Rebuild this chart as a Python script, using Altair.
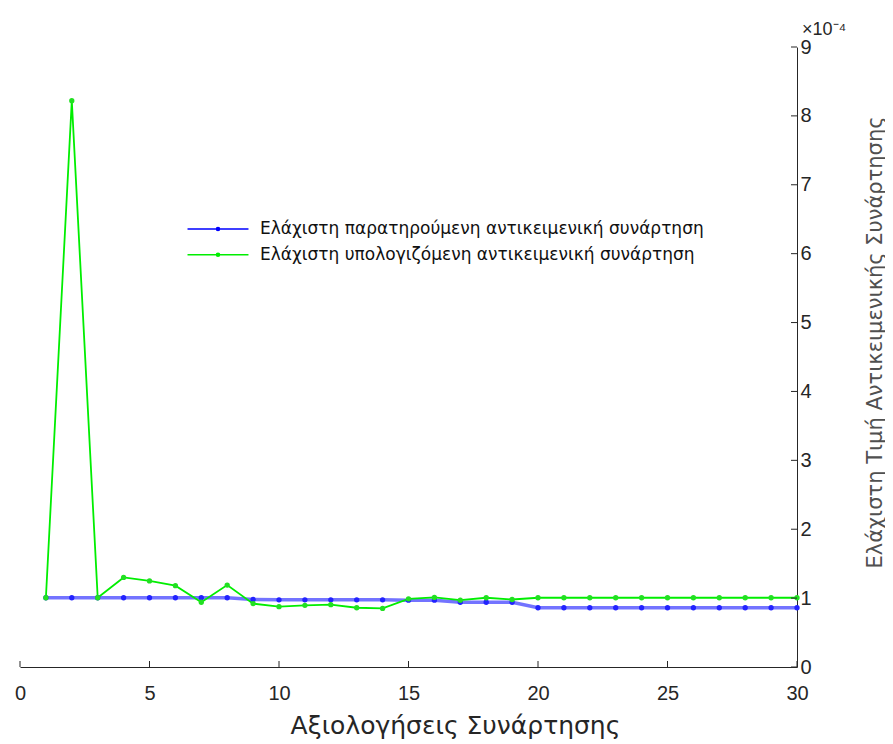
import altair as alt
import pandas as pd

FONT = "Liberation Sans"
GFONT = "DejaVu Sans"

iterations = [1, 2, 3, 4, 5, 6, 7, 8, 9, 10, 11, 12, 13, 14, 15,
              16, 17, 18, 19, 20, 21, 22, 23, 24, 25, 26, 27, 28, 29, 30]
# values in units of 1e-4
observed = [1.005, 1.005, 1.005, 1.005, 1.005, 1.005, 1.005, 1.005, 0.98, 0.975,
            0.975, 0.975, 0.975, 0.975, 0.97, 0.97, 0.94, 0.94, 0.94, 0.86,
            0.86, 0.86, 0.86, 0.86, 0.86, 0.86, 0.86, 0.86, 0.86, 0.86]
computed = [1.005, 8.22, 1.005, 1.30, 1.25, 1.18, 0.94, 1.19, 0.92, 0.875,
            0.895, 0.905, 0.86, 0.85, 0.99, 1.01, 0.97, 1.005, 0.98, 1.005,
            1.005, 1.005, 1.005, 1.005, 1.005, 1.005, 1.005, 1.005, 1.005, 1.005]
series_names = ["Ελάχιστη παρατηρούμενη αντικειμενική συνάρτηση",
                "Ελάχιστη υπολογιζόμενη  αντικειμενική συνάρτηση"]
line_colors = ["#0000ff", "#00ee00"]
point_colors = ["#2222ff", "#22e022"]
line_opacity = [0.55, 1.0]
line_width = [3.5, 1.8]
x_ticks = [0, 5, 10, 15, 20, 25, 30]
y_ticks = [0, 1, 2, 3, 4, 5, 6, 7, 8, 9]

rows = []
for name, vals, pc, op, lw in zip(series_names, [observed, computed],
                                  point_colors, line_opacity, line_width):
    for x, v in zip(iterations, vals):
        rows.append({"x": x, "y": v, "series": name, "pc": pc, "op": op, "lw": lw})
df = pd.DataFrame(rows)

W, H = 777, 620
AX = "#262626"
xs = alt.Scale(domain=[0, 30], nice=False, zero=False)
ys = alt.Scale(domain=[0, 9], nice=False, zero=False)

x_axis = alt.Axis(
    values=x_ticks, ticks=False, grid=False, labelFlush=False,
    domainColor=AX, domainWidth=1, labelColor=AX, labelFontSize=20, labelFont=FONT,
    labelPadding=16, titleFont=GFONT,
    titleFontSize=25, titleFontWeight="normal", titleColor=AX,
    titleX=435, titleY=66, titleAlign="center", titleBaseline="alphabetic")
y_axis = alt.Axis(
    orient="right", values=y_ticks, ticks=False, grid=False,
    labelFlush=False, domainColor=AX, domainWidth=1, labelColor=AX,
    labelFontSize=20, labelFont=FONT, labelPadding=3, titleFont=GFONT,
    titleFontSize=21, titleFontWeight="normal", titleColor="#505050",
    titleAngle=270, titleX=78, titleY=295, titleAlign="center",
    titleBaseline="middle")
x_enc = alt.X("x:Q", scale=xs, axis=x_axis, title="Αξιολογήσεις Συνάρτησης")
y_enc = alt.Y("y:Q", scale=ys, axis=y_axis,
              title="Ελάχιστη Τιμή Αντικειμενικής Συνάρτησης")

legend = alt.Legend(
    title=None, orient="none", legendX=187, legendY=171, padding=0,
    symbolType="M -3 0 L 3 0 M 0.15 0 A 0.15 0.15 0 1 1 -0.15 0 A 0.15 0.15 0 1 1 0.15 0",
    symbolSize=413, symbolStrokeWidth=1.6, labelFontSize=17, labelFont=GFONT,
    labelColor="#111111", labelOffset=31, rowPadding=6.7, labelLimit=0)

lines = alt.Chart(df).mark_line().encode(
    x=x_enc, y=y_enc,
    color=alt.Color("series:N", scale=alt.Scale(domain=series_names, range=line_colors),
                    legend=legend),
    strokeWidth=alt.StrokeWidth("lw:Q", scale=None),
    strokeOpacity=alt.StrokeOpacity("op:Q", scale=None),
)
pts = alt.Chart(df).mark_point(filled=True, shape="circle", size=28, opacity=1).encode(
    x=x_enc, y=y_enc,
    fill=alt.Fill("pc:N", scale=None),
)
# inward tick marks (same shared axes on every layer)
xt = alt.Chart(pd.DataFrame({"x": x_ticks})).mark_rule(color=AX, strokeWidth=1).encode(
    x=x_enc, y=alt.value(H), y2=alt.value(H - 6))
yt = alt.Chart(pd.DataFrame({"y": y_ticks})).mark_rule(color=AX, strokeWidth=1).encode(
    y=y_enc, x=alt.value(W), x2=alt.value(W - 6))

chart = alt.layer(lines, pts, xt, yt).properties(
    width=W, height=H,
    padding={"left": 12, "top": 39, "right": 88, "bottom": 77},
    autosize=alt.AutoSizeParams(type="none"),
    title=alt.TitleParams("×10⁻⁴", anchor="end", align="left", dx=5, dy=30, fontSize=18,
                          font=FONT, fontWeight="normal", color=AX, frame="group",
                          baseline="alphabetic", offset=14),
).configure(font=FONT).configure_view(strokeWidth=0)

chart.save("out.html", embed_options={"renderer": "svg", "actions": False})
